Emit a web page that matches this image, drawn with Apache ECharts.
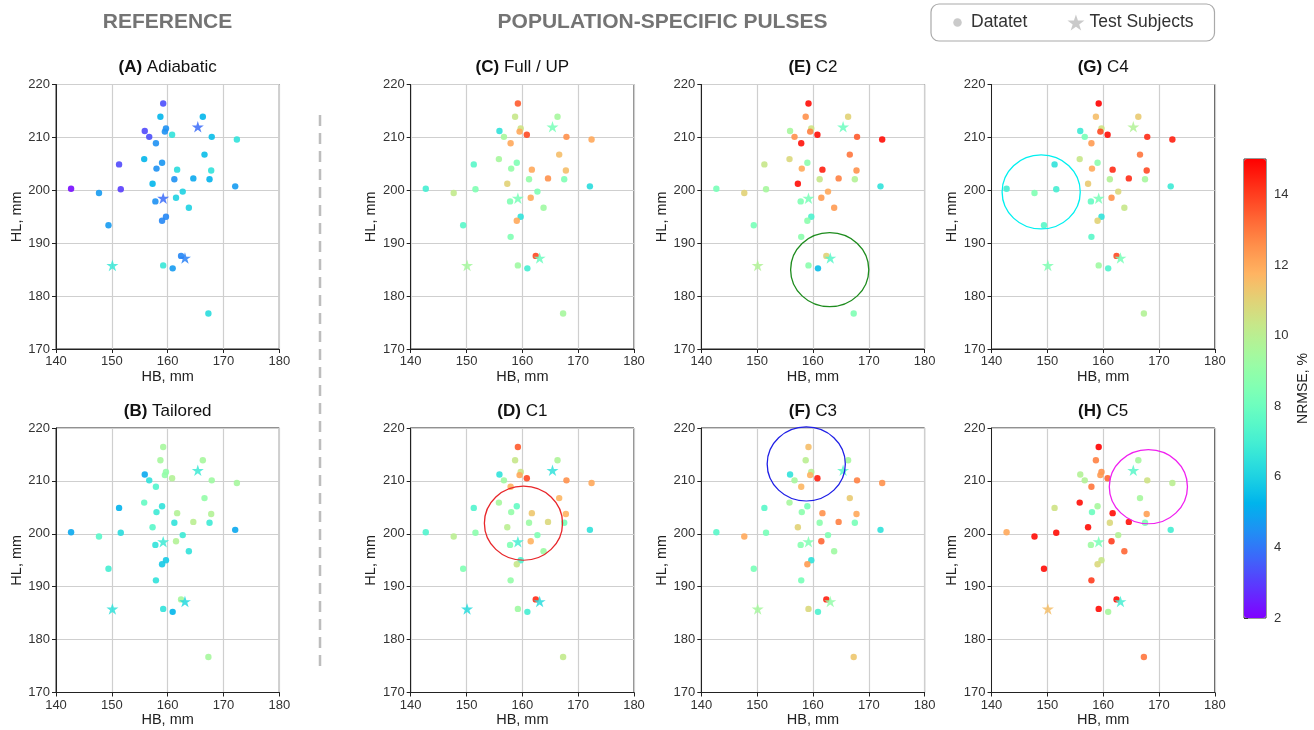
<!DOCTYPE html>
<html><head><meta charset="utf-8">
<script src="https://cdn.jsdelivr.net/npm/echarts@6/dist/echarts.min.js"></script>
<style>html,body{margin:0;padding:0;background:#fff}#c{width:1314px;height:730px}</style>
</head><body><div id="c"></div>
<script>
// ---- data ----
const HB = [159.2,158.7,166.3,159.7,159.5,155.9,160.8,156.7,167.9,172.4,157.9,166.6,155.8,151.3,159.0,158.0,161.7,167.8,161.2,164.6,167.5,157.3,172.1,142.7,151.6,147.7,162.7,161.5,157.8,163.8,159.7,159.0,149.4,162.4,159.2,160.9,167.3,157.9];
const HL = [216.4,213.9,213.9,211.7,211.1,211.2,210.5,210.1,210.1,209.6,208.9,206.75,205.9,204.9,205.2,204.1,203.9,203.75,202.1,202.25,202.1,201.25,200.75,200.3,200.2,199.5,199.75,198.6,197.9,196.7,195.0,194.25,193.4,187.6,185.8,185.25,176.7,191.2];
const starHB = [165.4,159.2,163.1,150.1];
const starHL = [212.0,198.5,187.2,185.8];

const nrmseA = [3.3,5.3,5.3,4.5,4.5,3.2,6.5,3.3,5.5,6.5,4.5,5.5,5.3,3.2,4.6,4.5,6.3,6.5,4.5,5.0,5.2,5.3,4.7,2.2,3.0,4.7,6.0,6.0,4.5,6.0,4.3,4.3,4.7,4.3,6.7,4.7,6.3,null];
const nrmseB = [9.5,9.5,9.5,9.0,9.0,5.0,9.8,6.5,9.3,9.5,7.3,9.0,7.8,5.2,6.5,6.8,9.8,9.8,6.5,10.0,6.8,7.5,5.0,5.0,6.3,7.5,6.8,9.8,6.5,6.5,5.8,5.8,7.0,9.5,6.5,5.3,9.5,6.5];
const nrmseC = [13.5,10.3,9.5,10.5,12.0,6.5,13.8,9.5,12.5,12.0,12.0,11.5,9.5,7.5,8.5,9.0,12.0,11.5,9.0,12.5,8.5,11.0,6.3,7.0,8.5,10.2,8.5,12.0,8.5,9.3,6.5,12.0,7.5,13.8,9.3,7.0,9.5,8.5];
const nrmseD = [13.5,10.3,9.7,10.5,12.0,6.5,13.8,9.3,12.5,12.0,11.8,11.7,9.5,7.3,7.8,9.0,11.3,11.8,9.2,10.8,8.3,10.0,6.5,7.3,8.8,10.0,8.5,11.8,8.5,9.2,7.2,10.3,8.5,14.3,9.3,7.0,10.2,9.0];
const nrmseE = [14.8,12.5,11.0,10.5,12.8,9.5,14.8,12.5,13.5,14.8,14.7,13.0,10.8,10.3,8.8,12.0,14.5,12.5,10.3,12.8,9.8,14.8,6.5,8.3,9.5,11.0,12.0,12.3,8.5,12.3,7.2,8.8,8.3,11.0,8.8,5.5,8.5,8.8];
const nrmseF = [11.5,10.0,9.5,10.0,11.8,6.5,14.5,9.5,12.8,12.5,11.7,11.2,9.5,7.5,8.3,8.8,12.5,12.0,8.8,12.8,8.3,11.0,6.5,7.5,8.3,12.0,8.5,13.3,8.7,9.3,6.5,12.3,8.3,14.5,10.8,7.2,11.3,8.3];
const nrmseG = [15.0,11.5,11.2,10.5,13.8,6.8,14.8,8.3,14.3,14.5,12.3,13.0,10.3,6.5,8.8,12.0,14.3,13.8,9.8,14.3,9.5,11.2,6.8,7.0,7.0,8.5,10.8,12.5,7.8,10.3,6.5,11.0,7.5,13.8,9.3,7.3,9.8,7.5];
const nrmseH = [15.0,12.8,9.5,12.5,12.3,9.8,13.3,9.8,10.5,10.0,13.0,9.5,14.8,10.5,9.5,8.0,14.8,12.2,10.8,14.7,8.5,14.8,7.0,12.0,14.8,14.8,9.8,14.0,9.3,13.3,10.3,10.8,14.8,14.8,14.8,9.5,13.0,14.0];

const starA = [3.8,3.8,4.2,6.7];
const starB = [6.8,6.8,6.2,6.5];
const starC = [8.3,8.3,8.0,9.5];
const starD = [6.5,7.0,6.3,6.3];
const starE = [8.0,8.3,7.5,9.8];
const starF = [7.5,8.5,9.0,9.5];
const starG = [9.8,8.3,8.3,8.5];
const starH = [7.5,8.3,7.0,11.5];

const panelLetters = ['A','B','C','D','E','F','G','H'];
const panelNames = ['Adiabatic','Tailored','Full / UP','C1','C2','C3','C4','C5'];
const xTicks = [140,150,160,170,180];
const yTicks = [170,180,190,200,210,220];
const colorbarTicks = [2,4,6,8,10,12,14];

// highlight circles (panel index, center HB, center HL, radius in mm)
const circlePanel = [3,4,5,6,7];
const circleHB = [160.2,163.0,158.8,148.9,168.1];
const circleHL = [202.0,185.0,213.2,199.7,208.9];
const circleR = [7,7,7,7,7];

// ---- styles/layout ----
const FONT = 'Liberation Sans, Arial, sans-serif';
const dotSets = [nrmseA,nrmseB,nrmseC,nrmseD,nrmseE,nrmseF,nrmseG,nrmseH];
const starSets = [starA,starB,starC,starD,starE,starF,starG,starH];
const colLeft = [56, 410.7, 701.3, 991.5];
const rowTop = [84.5, 428];
const GW = 223.3, GH = 264.5;
const panelPos = [[0,0],[0,1],[1,0],[1,1],[2,0],[2,1],[3,0],[3,1]];
const circleColors = ['#e8262a','#1e8c1e','#1f1fe6','#00f0f0','#f020f0'];
const STAR = 'path://M50,0 L61.2,34.5 L97.6,34.5 L68.2,55.9 L79.4,90.5 L50,69.1 L20.6,90.5 L31.8,55.9 L2.4,34.5 L38.8,34.5 Z';

function rainbow(t){
  const r = Math.min(1, Math.abs(2*t-0.5));
  const g = Math.sin(Math.PI*t);
  const b = Math.cos(Math.PI*t/2);
  const h = v => Math.round(Math.max(0,Math.min(1,v))*255).toString(16).padStart(2,'0');
  return '#'+h(r)+h(g)+h(b);
}
const stops = [];
for (let i=0;i<=32;i++) stops.push(rainbow(i/32));

const grids=[], xAxes=[], yAxes=[], series=[], graphics=[];
panelPos.forEach((p,i)=>{
  const left = colLeft[p[0]], top = rowTop[p[1]];
  grids.push({left:left, top:top, width:GW, height:GH, show:true, borderColor:'#222', borderWidth:1, containLabel:false});
  xAxes.push({gridIndex:i, type:'value', min:xTicks[0], max:xTicks[xTicks.length-1], interval:10,
    name:'HB, mm', nameLocation:'middle', nameGap:20, nameTextStyle:{fontSize:14.5, color:'#222', fontFamily:FONT},
    axisLine:{show:true, onZero:false, lineStyle:{color:'#222'}},
    axisTick:{show:true, length:4, lineStyle:{color:'#222'}},
    axisLabel:{fontSize:13, color:'#333', margin:6, fontFamily:FONT},
    splitLine:{show:true, lineStyle:{color:'#cfcfcf', width:1.2}}});
  yAxes.push({gridIndex:i, type:'value', min:yTicks[0], max:yTicks[yTicks.length-1], interval:10,
    name:'HL, mm', nameLocation:'middle', nameGap:32, nameRotate:90, nameTextStyle:{fontSize:14.5, color:'#222', fontFamily:FONT},
    axisLine:{show:true, onZero:false, lineStyle:{color:'#222'}},
    axisTick:{show:true, length:4, lineStyle:{color:'#222'}},
    axisLabel:{fontSize:13, color:'#333', margin:6, fontFamily:FONT},
    splitLine:{show:true, lineStyle:{color:'#cfcfcf', width:1.2}}});
  graphics.push({type:'text', x:left+GW/2, y:top-17,
    style:{text:'{b|('+panelLetters[i]+')} '+panelNames[i], fontSize:17, fontFamily:FONT, fill:'#111',
      align:'center', verticalAlign:'middle', rich:{b:{fontWeight:'bold', fontSize:17, fontFamily:FONT, fill:'#111'}}}});
});
// colorbar axis grid
grids.push({left:1244, top:159, width:22, height:459, show:true, borderColor:'#333', borderWidth:1, backgroundColor:'transparent'});
xAxes.push({gridIndex:8, type:'value', min:0, max:1, show:false});
yAxes.push({gridIndex:8, type:'value', position:'right', min:2, max:15,
  name:'NRMSE, %', nameLocation:'middle', nameRotate:90, nameGap:30, nameTextStyle:{fontSize:14, color:'#222', fontFamily:FONT},
  axisLine:{show:false}, splitLine:{show:false},
  axisTick:{show:true, length:4, customValues:colorbarTicks, lineStyle:{color:'#333'}},
  axisLabel:{fontSize:13, color:'#333', margin:8, fontFamily:FONT, customValues:colorbarTicks}});

// dot series
dotSets.forEach((vals,i)=>{
  const data=[];
  vals.forEach((v,j)=>{ if (v!==null) data.push([HB[j],HL[j],v]); });
  series.push({type:'scatter', xAxisIndex:i, yAxisIndex:i, symbol:'circle', symbolSize:6.4,
    itemStyle:{opacity:0.9}, data:data, z:3, silent:true});
});
// star series
starSets.forEach((vals,i)=>{
  series.push({type:'scatter', xAxisIndex:i, yAxisIndex:i, symbol:STAR, symbolSize:[12,11.5],
    itemStyle:{opacity:0.85}, data:vals.map((v,j)=>[starHB[j],starHL[j],v]), z:4, silent:true});
});
// circles
circlePanel.forEach((pi,k)=>{
  const col = circleColors[k];
  series.push({type:'custom', xAxisIndex:pi, yAxisIndex:pi, clip:false, silent:true, z:5,
    encode:{x:0,y:1},
    data:[[circleHB[k], circleHL[k], circleR[k]]],
    renderItem:function(params, api){
      const c = api.coord([api.value(0), api.value(1)]);
      const s = api.size([api.value(2), api.value(2)]);
      return {type:'circle', x:c[0], y:c[1], scaleX:1, scaleY:s[1]/s[0],
        shape:{cx:0, cy:0, r:s[0]}, style:{fill:'none', stroke:col, lineWidth:1.3}};
    }});
});
// colorbar dummy series
series.push({type:'scatter', xAxisIndex:8, yAxisIndex:8, data:[]});
// legend dummy series
series.push({name:'Datatet', type:'scatter', xAxisIndex:0, yAxisIndex:0, data:[], itemStyle:{color:'#bdbdbd'}});
series.push({name:'Test Subjects', type:'scatter', xAxisIndex:0, yAxisIndex:0, data:[], symbol:STAR, itemStyle:{color:'#bdbdbd'}});

graphics.push({type:'text', x:167.5, y:22, style:{text:'REFERENCE', fontSize:21, fontWeight:'bold', fontFamily:FONT, fill:'#747474', align:'center', verticalAlign:'middle'}});
graphics.push({type:'text', x:662.5, y:22, style:{text:'POPULATION-SPECIFIC PULSES', fontSize:21, fontWeight:'bold', fontFamily:FONT, fill:'#747474', align:'center', verticalAlign:'middle'}});
graphics.push({type:'line', shape:{x1:320, y1:115, x2:320, y2:672}, style:{stroke:'#bdbdbd', lineWidth:2.5, lineDash:[11,7]}});

const chart = echarts.init(document.getElementById('c'), null, {renderer:'canvas'});
chart.setOption({
  animation:false,
  backgroundColor:'#ffffff',
  textStyle:{fontFamily:FONT},
  grid:grids, xAxis:xAxes, yAxis:yAxes,
  visualMap:{type:'continuous', min:2, max:15, dimension:2, seriesIndex:[0,1,2,3,4,5,6,7,8,9,10,11,12,13,14,15],
    left:1244, top:159, itemWidth:22, itemHeight:459, calculable:false, realtime:false, text:['',''], padding:0,
    showLabel:false, hoverLink:false, inRange:{color:stops}},
  legend:{left:931, top:4, orient:'horizontal', padding:[9.5,21,9.5,18], itemGap:40, itemWidth:17, itemHeight:17,
    borderColor:'#aaaaaa', borderWidth:1.2, borderRadius:8, selectedMode:false,
    textStyle:{fontSize:17.5, color:'#333', fontFamily:FONT},
    data:[{name:'Datatet', icon:'path://M0,0 M100,100 M25,50 A25,25 0 1 1 75,50 A25,25 0 1 1 25,50 Z'},
          {name:'Test Subjects', icon:STAR}]},
  graphic:graphics,
  series:series
});
</script>
</body></html>
